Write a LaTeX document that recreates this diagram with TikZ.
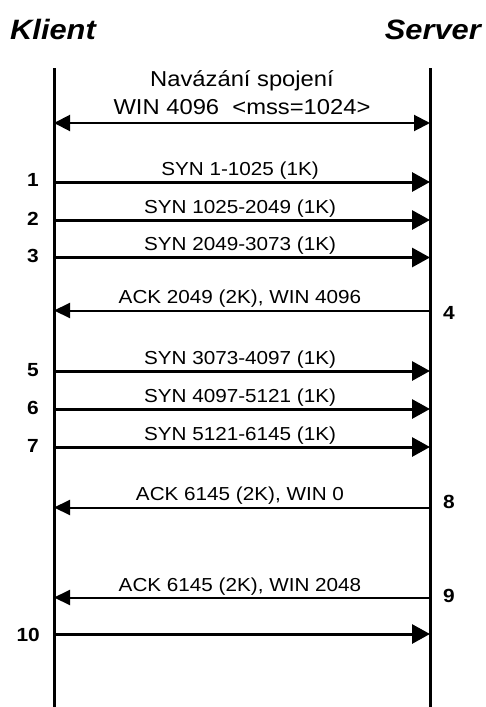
\documentclass[tikz,border=0pt]{standalone}
\usepackage{fontspec}
\setmainfont[FakeStretch=1.1]{Liberation Sans}
\usetikzlibrary{arrows.meta}
\begin{document}
\begin{tikzpicture}[x=1pt,y=-1pt,
  lifeline/.style={line width=3pt},
  synarrow/.style={line width=3pt,-{Triangle[length=18pt,width=19pt]}},
  ackarrow/.style={line width=2pt,-{Triangle[length=16pt,width=15pt]}},
  bothway/.style={line width=2pt,{Triangle[length=16pt,width=16pt]}-{Triangle[length=16pt,width=16pt]}},
  msg/.style={inner sep=0pt,anchor=base,font=\fontsize{18.8}{22}\selectfont},
  bigmsg/.style={inner sep=0pt,anchor=base,font=\fontsize{21.6}{25}\selectfont},
  numl/.style={inner sep=0pt,anchor=east,font=\fontsize{19}{22}\selectfont\bfseries},
  numr/.style={inner sep=0pt,anchor=west,font=\fontsize{19}{22}\selectfont\bfseries},
  party/.style={inner sep=0pt,font=\fontsize{28}{32}\selectfont\bfseries\itshape}]
\useasboundingbox (0,0) rectangle (485,707);

% parties
\node[party,anchor=base west] (klient) at (10,39) {Klient};
\node[party,anchor=base east] (server) at (481,39) {Server};

% lifelines
\coordinate (Ltop) at (54,68);
\coordinate (Lbot) at (54,707);
\coordinate (Rtop) at (430,68);
\coordinate (Rbot) at (430,707);
\draw[lifeline] (Ltop) -- (Lbot);
\draw[lifeline] (Rtop) -- (Rbot);

% connection setup
\coordinate (L0) at (54,123);
\coordinate (R0) at (430,123);
\draw[bothway] (L0) -- (R0);
\node[bigmsg] (nav) at (242,86) {Navázání spojení};
\node[bigmsg] (win) at (242,114) {WIN 4096\ \ <mss=1024>};

% 1
\coordinate (L1) at (54,182); \coordinate (R1) at (430,182);
\draw[synarrow] (L1) -- (R1);
\node[msg] (m1) at (240,175) {SYN 1-1025 (1K)};
\node[numl] (n1) at (39,180) {1};
% 2
\coordinate (L2) at (54,220); \coordinate (R2) at (430,220);
\draw[synarrow] (L2) -- (R2);
\node[msg] (m2) at (240,213) {SYN 1025-2049 (1K)};
\node[numl] (n2) at (39,219) {2};
% 3
\coordinate (L3) at (54,257.5); \coordinate (R3) at (430,257.5);
\draw[synarrow] (L3) -- (R3);
\node[msg] (m3) at (240,250.5) {SYN 2049-3073 (1K)};
\node[numl] (n3) at (39,255.5) {3};
% 4
\coordinate (L4) at (54,310.5); \coordinate (R4) at (430,310.5);
\draw[ackarrow] (R4) -- (L4);
\node[msg] (m4) at (240,303.5) {ACK 2049 (2K), WIN 4096};
\node[numr] (n4) at (443,312.5) {4};
% 5
\coordinate (L5) at (54,371); \coordinate (R5) at (430,371);
\draw[synarrow] (L5) -- (R5);
\node[msg] (m5) at (240,364.5) {SYN 3073-4097 (1K)};
\node[numl] (n5) at (39,370) {5};
% 6
\coordinate (L6) at (54,409); \coordinate (R6) at (430,409);
\draw[synarrow] (L6) -- (R6);
\node[msg] (m6) at (240,402) {SYN 4097-5121 (1K)};
\node[numl] (n6) at (39,407.5) {6};
% 7
\coordinate (L7) at (54,447); \coordinate (R7) at (430,447);
\draw[synarrow] (L7) -- (R7);
\node[msg] (m7) at (240,440) {SYN 5121-6145 (1K)};
\node[numl] (n7) at (39,446) {7};
% 8
\coordinate (L8) at (54,507.5); \coordinate (R8) at (430,507.5);
\draw[ackarrow] (R8) -- (L8);
\node[msg] (m8) at (240,500) {ACK 6145 (2K), WIN 0};
\node[numr] (n8) at (443,501.5) {8};
% 9
\coordinate (L9) at (54,597.5); \coordinate (R9) at (430,597.5);
\draw[ackarrow] (R9) -- (L9);
\node[msg] (m9) at (240,591) {ACK 6145 (2K), WIN 2048};
\node[numr] (n9) at (443,596) {9};
% 10
\coordinate (L10) at (54,634); \coordinate (R10) at (430,634);
\draw[synarrow] (L10) -- (R10);
\node[numl] (n10) at (40,635) {10};
\end{tikzpicture}
\end{document}
